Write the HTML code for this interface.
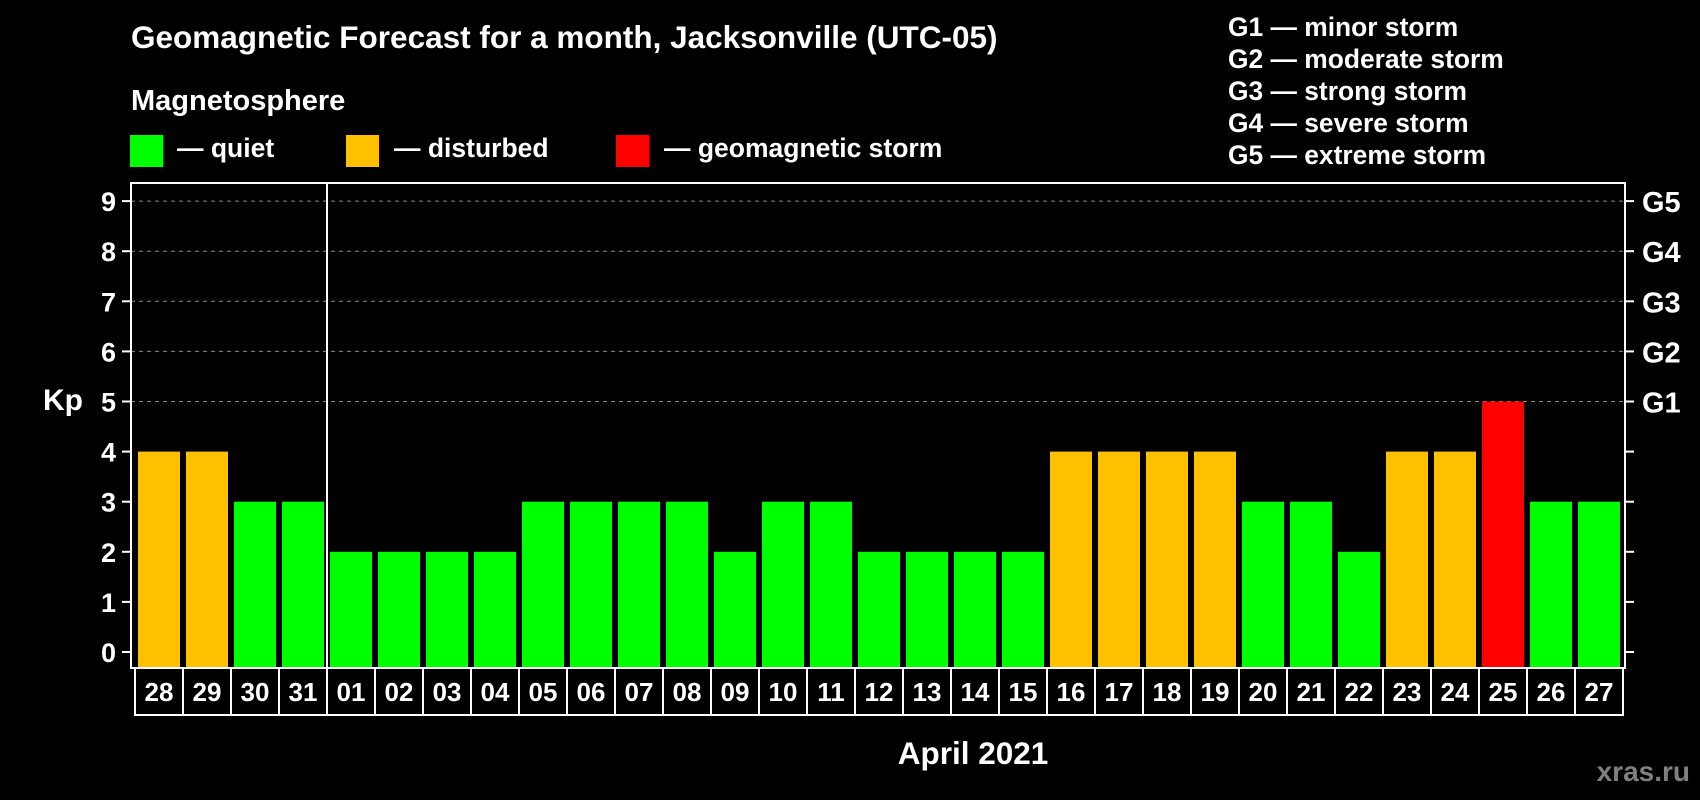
<!DOCTYPE html>
<html><head><meta charset="utf-8"><style>
html,body{margin:0;padding:0;background:#000;width:1700px;height:800px;overflow:hidden}
svg{display:block;font-family:"Liberation Sans",Arial,sans-serif;font-weight:bold}
</style></head><body>
<svg id="chart" width="1700" height="800" viewBox="0 0 1700 800">
<text x="131" y="48" font-size="31.5" fill="#fff">Geomagnetic Forecast for a month, Jacksonville (UTC-05)</text>
<text x="131" y="110" font-size="29" fill="#fff">Magnetosphere</text>
<g><rect x="130" y="135" width="33" height="32" fill="#00ff00"/><text x="177" y="157" font-size="26.5" fill="#fff">— quiet</text></g>
<g><rect x="346" y="135" width="33" height="32" fill="#ffc000"/><text x="394" y="157" font-size="26.5" fill="#fff">— disturbed</text></g>
<g><rect x="616" y="135" width="33" height="32" fill="#ff0000"/><text x="664" y="157" font-size="26.5" fill="#fff">— geomagnetic storm</text></g>
<g font-size="26.4" fill="#fff">
<text x="1228" y="36">G1 — minor storm</text>
<text x="1228" y="68">G2 — moderate storm</text>
<text x="1228" y="100">G3 — strong storm</text>
<text x="1228" y="132">G4 — severe storm</text>
<text x="1228" y="164">G5 — extreme storm</text>
</g>
<text x="63" y="410" font-size="30" fill="#fff" text-anchor="middle">Kp</text>
<text x="973" y="764" font-size="31.5" fill="#fff" text-anchor="middle">April 2021</text>
<text x="1690" y="781" font-size="28" fill="#808080" text-anchor="end">xras.ru</text>
<g id="grid"></g><g id="bars"></g><g id="axes"></g>
</svg>
<script>
const days = ["28","29","30","31","01","02","03","04","05","06","07","08","09","10","11","12","13","14","15","16","17","18","19","20","21","22","23","24","25","26","27"];
const kpValues = [4,4,3,3,2,2,2,2,3,3,3,3,2,3,3,2,2,2,2,4,4,4,4,3,3,2,4,4,5,3,3];
const yTicks = [0,1,2,3,4,5,6,7,8,9];
const gLabels = ["G1","G2","G3","G4","G5"];
const gLevels = [5,6,7,8,9];
const NS="http://www.w3.org/2000/svg";
const L=131,R=1625,T=183,B=668,Y0=652,UNIT=50.1,X0=135,STEP=48;
const y=v=>Y0-v*UNIT;
const x=i=>X0+i*STEP;
function mk(tag,attrs,parent){const e=document.createElementNS(NS,tag);for(const k in attrs)e.setAttribute(k,attrs[k]);parent.appendChild(e);return e;}
const grid=document.getElementById('grid'),bars=document.getElementById('bars'),axes=document.getElementById('axes');
gLevels.forEach(v=>{const g=mk('line',{x1:L,x2:R,y1:y(v),y2:y(v),stroke:'#888','stroke-width':1,'stroke-dasharray':'4,4'},grid);

});
const color=v=>v>=5?'#ff0000':(v>=4?'#ffc000':'#00ff00');
kpValues.forEach((v,i)=>{const r=mk('rect',{x:x(i)+3,y:y(v),width:42,height:B-y(v),fill:color(v)},bars);

});
const frame=mk('rect',{x:L,y:T,width:R-L,height:B-T,fill:'none',stroke:'#fff','stroke-width':2},axes);


const div=mk('line',{x1:327,x2:327,y1:T,y2:B,stroke:'#fff','stroke-width':2},axes);


yTicks.forEach(v=>{mk('line',{x1:122,x2:L,y1:y(v),y2:y(v),stroke:'#fff','stroke-width':2},axes);
mk('line',{x1:R,x2:1634,y1:y(v),y2:y(v),stroke:'#fff','stroke-width':2},axes);
const t=mk('text',{x:116,y:y(v)+10,'font-size':27,fill:'#fff','text-anchor':'end'},axes);t.textContent=v;

});
gLabels.forEach((g,i)=>{const t=mk('text',{x:1642,y:y(gLevels[i])+11,'font-size':29,fill:'#fff'},axes);t.textContent=g;

});
days.forEach((d,i)=>{const b=mk('rect',{x:x(i),y:B,width:STEP,height:47,fill:'none',stroke:'#fff','stroke-width':2},axes);


const t=mk('text',{x:x(i)+STEP/2,y:B+33,'font-size':26,fill:'#fff','text-anchor':'middle'},axes);t.textContent=d;

});
</script>
</body></html>
